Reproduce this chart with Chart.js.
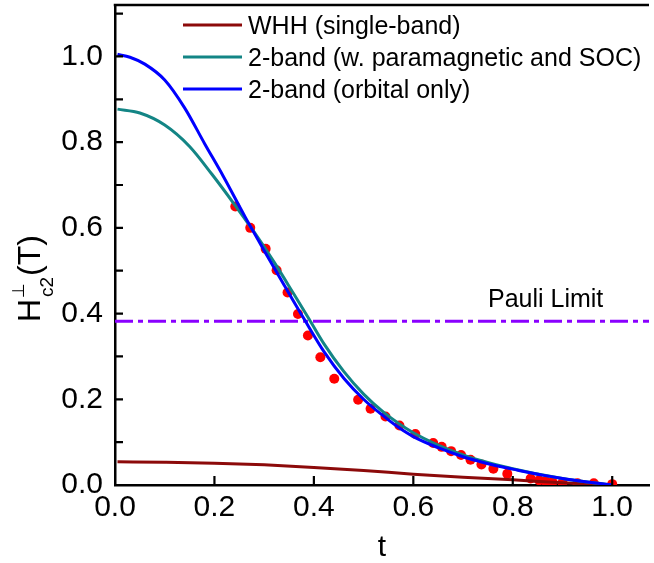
<!DOCTYPE html>
<html>
<head>
<meta charset="utf-8">
<script src="https://cdn.jsdelivr.net/npm/chart.js@4.4.1/dist/chart.umd.min.js"></script>
<style>
  html, body { margin: 0; padding: 0; background: #fff; }
  #wrap { width: 654px; height: 563px; position: relative; }
</style>
</head>
<body>
<div id="wrap"><canvas id="hc2"></canvas></div>
<script>
// ---- data ----
const dotT = [0.242, 0.272, 0.303, 0.325, 0.347, 0.368, 0.388, 0.413, 0.441, 0.489,
  0.514, 0.544, 0.572, 0.604, 0.640, 0.657, 0.676, 0.696, 0.715, 0.737,
  0.761, 0.789, 0.836, 0.853, 0.866, 0.880, 0.900, 0.930, 0.963, 1.000];
const dotH = [0.650, 0.600, 0.551, 0.501, 0.449, 0.399, 0.349, 0.298, 0.248, 0.199,
  0.178, 0.160, 0.139, 0.119, 0.098, 0.089, 0.079, 0.070, 0.059, 0.048,
  0.038, 0.026, 0.015, 0.011, 0.009, 0.007, 0.005, 0.004, 0.004, 0.002];

const orbT = [0.005, 0.03, 0.06, 0.10, 0.14, 0.18, 0.218, 0.262, 0.301, 0.341, 0.381,
  0.421, 0.461, 0.501, 0.541, 0.567, 0.60, 0.65, 0.70, 0.733, 0.767, 0.80, 0.86, 0.90, 0.95, 1.0];
const orbH = [1.005, 0.998, 0.982, 0.945, 0.88, 0.797, 0.72, 0.625, 0.545, 0.465, 0.386,
  0.310, 0.248, 0.199, 0.160, 0.137, 0.113, 0.087, 0.066, 0.055, 0.045, 0.037, 0.023, 0.015, 0.007, 0.0];

const socT = [0.005, 0.05, 0.10, 0.15, 0.195, 0.24, 0.28, 0.32, 0.36, 0.39, 0.42,
  0.46, 0.50, 0.54, 0.60, 0.70, 0.80, 0.90, 1.0];
const socH = [0.877, 0.868, 0.84, 0.79, 0.725, 0.655, 0.59, 0.52, 0.445, 0.388, 0.33,
  0.265, 0.212, 0.17, 0.122, 0.07, 0.038, 0.015, 0.0];

const whhT = [0.005, 0.1, 0.2, 0.3, 0.4, 0.5, 0.6, 0.7, 0.8, 0.9, 1.0];
const whhH = [0.054, 0.053, 0.051, 0.047, 0.041, 0.034, 0.025, 0.018, 0.012, 0.005, 0.0];

const pauliH = 0.382;

const seriesNames = ["WHH (single-band)", "2-band (w. paramagnetic and SOC)", "2-band (orbital only)"];
const xTicks = [0.0, 0.2, 0.4, 0.6, 0.8, 1.0];
const yTicks = [0.0, 0.2, 0.4, 0.6, 0.8, 1.0];
const yMinorTicks = [0.1, 0.3, 0.5, 0.7, 0.9, 1.1];

// ---- style ----
const FONT = "'Liberation Sans', Arial, sans-serif";
const C_WHH = "#8c0a0a";
const C_SOC = "#138585";
const C_ORB = "#0000ff";
const C_PAULI = "#8a00ff";
const X_MAX = 1.074;
const Y_MAX = 1.12;

function pts(xs, ys) {
  return xs.map((x, i) => ({ x: x, y: ys[i] }));
}

// ticks inward, top frame line, legend, axis titles
const decor = {
  id: "decor",
  afterDraw(chart) {
    const ctx = chart.ctx;
    const a = chart.chartArea;
    const sx = chart.scales.x;
    const sy = chart.scales.y;
    ctx.save();
    ctx.strokeStyle = "#000";
    ctx.lineWidth = 2.5;
    ctx.beginPath();
    ctx.moveTo(a.left - 1.25, a.top);
    ctx.lineTo(a.right, a.top);
    ctx.stroke();

    ctx.lineWidth = 2.2;
    ctx.beginPath();
    xTicks.forEach((v) => {
      if (v === 0) return;
      const px = sx.getPixelForValue(v);
      ctx.moveTo(px, a.bottom);
      ctx.lineTo(px, a.bottom - 9);
    });
    yTicks.concat(yMinorTicks).forEach((v) => {
      if (v === 0) return;
      const py = sy.getPixelForValue(v);
      ctx.moveTo(a.left, py);
      ctx.lineTo(a.left + 8, py);
    });
    ctx.stroke();

    // legend
    const colors = [C_WHH, C_SOC, C_ORB];
    const rows = [25, 57, 89];
    ctx.font = "25px " + FONT;
    ctx.textBaseline = "alphabetic";
    ctx.fillStyle = "#000";
    seriesNames.forEach((name, i) => {
      ctx.strokeStyle = colors[i];
      ctx.lineWidth = 3;
      ctx.beginPath();
      ctx.moveTo(183, rows[i]);
      ctx.lineTo(242, rows[i]);
      ctx.stroke();
      ctx.fillText(name, 248, rows[i] + 9);
    });

    // Pauli label
    ctx.fillText("Pauli Limit", 488, 307);

    // x title
    ctx.font = "30px " + FONT;
    ctx.textAlign = "center";
    ctx.fillText("t", (a.left + a.right) / 2, 556);

    // y title: H^perp_c2 (T), rotated
    ctx.translate(40, 322);
    ctx.rotate(-Math.PI / 2);
    ctx.textAlign = "left";
    ctx.font = "32px " + FONT;
    ctx.fillText("H", 0, 0);
    const w = ctx.measureText("H").width;
    ctx.font = "17px 'DejaVu Sans', " + FONT;
    ctx.fillText("\u22A5", w + 1, -16);
    ctx.font = "19px " + FONT;
    ctx.fillText("c2", w + 2, 13);
    ctx.font = "32px " + FONT;
    ctx.fillText("(T)", w + 23, 0);
    ctx.restore();
  },
};

const axisTicks = (v) => v.toFixed(1);

new Chart(document.getElementById("hc2"), {
  type: "scatter",
  data: {
    datasets: [
      {
        label: seriesNames[2],
        data: pts(orbT, orbH),
        showLine: true,
        borderColor: C_ORB,
        borderWidth: 3,
        pointRadius: 0,
        cubicInterpolationMode: "monotone",
        order: 0,
      },
      {
        label: seriesNames[1],
        data: pts(socT, socH),
        showLine: true,
        borderColor: C_SOC,
        borderWidth: 3,
        pointRadius: 0,
        cubicInterpolationMode: "monotone",
        order: 1,
      },
      {
        label: seriesNames[0],
        data: pts(whhT, whhH),
        showLine: true,
        borderColor: C_WHH,
        borderWidth: 3,
        pointRadius: 0,
        cubicInterpolationMode: "monotone",
        order: 2,
      },
      {
        label: "Pauli Limit",
        data: [{ x: 0, y: pauliH }, { x: X_MAX, y: pauliH }],
        showLine: true,
        borderColor: C_PAULI,
        borderWidth: 3,
        borderDash: [18, 5, 5, 5],
        pointRadius: 0,
        order: 3,
      },
      {
        label: "data",
        data: pts(dotT, dotH),
        showLine: false,
        backgroundColor: "#ff0000",
        borderWidth: 0,
        pointRadius: 5,
        order: 4,
      },
    ],
  },
  options: {
    responsive: true,
    maintainAspectRatio: false,
    animation: false,
    layout: { padding: { top: 5, right: 0, left: 0, bottom: 0 } },
    plugins: { legend: { display: false }, tooltip: { enabled: false } },
    scales: {
      x: {
        type: "linear",
        min: 0,
        max: X_MAX,
        grid: { display: false, drawTicks: false },
        border: { display: true, color: "#000", width: 2.5 },
        afterFit: (s) => { s.height = 78; s.paddingLeft = 0; s.paddingRight = 0; },
        afterBuildTicks: (s) => { s.ticks = xTicks.map((v) => ({ value: v })); },
        ticks: {
          color: "#000",
          font: { size: 30, family: FONT },
          padding: 5,
          maxRotation: 0,
          autoSkip: false,
          callback: axisTicks,
        },
      },
      y: {
        type: "linear",
        min: 0,
        max: Y_MAX,
        grid: { display: false, drawTicks: false },
        border: { display: true, color: "#000", width: 2.5 },
        afterFit: (s) => { s.width = 115; s.paddingTop = 0; s.paddingBottom = 0; },
        afterBuildTicks: (s) => { s.ticks = yTicks.map((v) => ({ value: v })); },
        ticks: {
          color: "#000",
          font: { size: 30, family: FONT },
          padding: 12,
          autoSkip: false,
          callback: axisTicks,
        },
      },
    },
  },
  plugins: [decor],
});
</script>
</body>
</html>
